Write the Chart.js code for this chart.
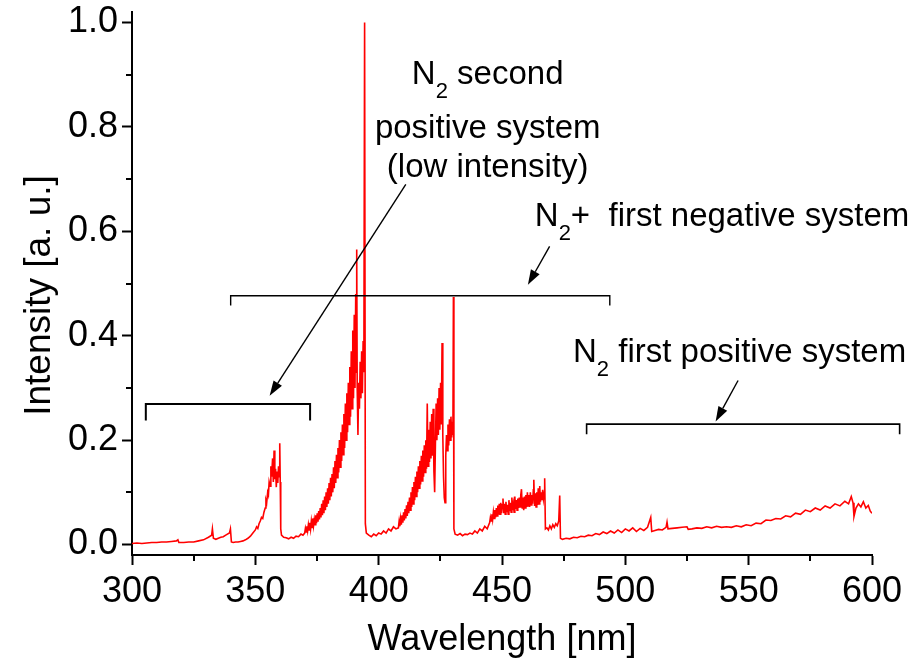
<!DOCTYPE html>
<html>
<head>
<meta charset="utf-8">
<script src="https://cdn.jsdelivr.net/npm/chart.js@4/dist/chart.umd.min.js"></script>
<style>
  html, body { margin: 0; padding: 0; background: #fff; }
  #wrap { width: 921px; height: 664px; }
</style>
</head>
<body>
<div id="wrap"><canvas id="c" width="921" height="664"></canvas></div>
<script>
// ---- data ----
const wavelength = [
300,302,304,306,308,310,312,314,316,318,318.6,319,321,323,325,327,329,331,332.3,332.6,333,334,335,336,337,338,339.5,339.9,340.3,341,342,343,344,345,346,347,348,349,350,350.5,351,351.5,352,352.5,353,353.5,354,354.3,354.6,355,355.3,355.6,356,356.3,356.6,357,357.3,357.6,357.9,358.2,358.5,358.8,359.1,359.4,359.7,359.9,360.1,360.3,360.6,361.5,362.5,363.5,364.5,365.5,366.5,367.5,368.5,369.3,
370.0,370.3,370.6,370.9,371.2,371.5,371.8,372.1,372.4,372.7,373.0,373.3,373.6,373.9,374.2,374.5,374.8,375.1,375.4,375.7,376.0,376.3,376.6,376.9,377.2,377.5,377.8,378.1,378.4,378.7,379.0,379.3,379.6,379.9,380.2,380.5,380.8,381.1,381.4,381.7,382.0,382.3,382.6,382.9,383.2,383.5,383.8,384.1,384.4,384.7,385.0,385.3,385.6,385.9,386.2,386.5,386.8,387.1,387.4,387.7,388.0,388.3,388.6,388.9,389.2,389.5,389.8,390.1,390.4,390.7,390.9,391.1,391.3,391.6,391.9,392.2,392.5,392.8,393.1,393.4,393.7,394.0,394.3,394.6,
395,396,397,398,399,400,401,402,403,404,405,406,407,
408.0,408.3,408.6,408.9,409.2,409.5,409.8,410.1,410.4,410.7,411.0,411.3,411.6,411.9,412.2,412.5,412.8,413.1,413.4,413.7,414.0,414.3,414.6,414.9,415.2,415.5,415.8,416.1,416.4,416.7,417.0,417.3,417.6,417.9,418.2,418.5,418.8,419.1,419.4,419.7,420.0,420.3,420.6,420.9,421.2,421.5,421.8,422.1,422.4,422.7,423.0,423.3,423.6,423.9,424.2,424.5,424.8,425.1,425.4,425.7,426.0,426.3,426.6,426.9,427.2,427.5,427.8,428.1,428.4,428.7,429.0,429.3,429.6,429.9,430.1,430.3,430.5,
431,432,433,434,435,436,437,438,439,440,441,442,443,444,
445.0,445.3,445.6,445.9,446.2,446.5,446.8,447.1,447.4,447.7,448.0,448.3,448.6,448.9,449.2,449.5,449.8,450.1,450.4,450.7,451.0,451.3,451.6,451.9,452.2,452.5,452.8,453.1,453.4,453.7,454.0,454.3,454.6,454.9,455.2,455.5,455.8,456.1,456.4,456.7,457.0,457.3,457.6,457.9,458.2,458.5,458.8,459.1,459.4,459.7,460.0,460.3,460.6,460.9,461.2,461.5,461.8,462.1,462.4,462.7,462.9,463.2,463.5,463.8,464.1,464.4,464.7,465.0,465.3,465.6,465.9,466.2,466.5,466.8,467.1,467.3,467.6,
468.2,468.8,469.4,470,470.6,471.2,471.8,472.4,473,473.4,473.7,474.5,476,477.5,479,480.5,482,483.5,485,486.5,488,489.5,491,492.5,494,495.5,497,498.5,500,501.5,503,504.5,506,507.5,509,510.3,510.7,512,513.5,515,516.5,516.9,517.3,519,521,523,525,525.5,527,529,531,533,535,537,539,541,543,545,547,549,551,553,555,557,559,561,563,565,567,569,571,573,575,577,579,581,583,585,587,589,590.5,591.6,592.3,592.7,593.5,594.5,595.5,596.5,597.5,598.5,599.3,600
];
const intensity = [
0.002,0.003,0.002,0.003,0.004,0.004,0.005,0.005,0.006,0.007,0.009,0.004,0.004,0.005,0.005,0.007,0.009,0.014,0.018,0.03,0.012,0.01,0.012,0.014,0.015,0.018,0.022,0.03,0.005,0.004,0.005,0.005,0.006,0.007,0.009,0.012,0.016,0.022,0.028,0.034,0.031,0.04,0.045,0.052,0.05,0.062,0.07,0.085,0.08,0.1,0.095,0.12,0.112,0.15,0.13,0.165,0.12,0.18,0.125,0.145,0.11,0.14,0.118,0.15,0.13,0.194,0.12,0.03,0.018,0.014,0.013,0.011,0.014,0.012,0.016,0.015,0.02,0.018,
0.022,0.031,0.024,0.035,0.026,0.038,0.028,0.042,0.03,0.045,0.033,0.05,0.036,0.048,0.038,0.056,0.041,0.06,0.044,0.064,0.048,0.07,0.052,0.078,0.056,0.085,0.06,0.092,0.066,0.1,0.072,0.108,0.078,0.118,0.085,0.128,0.092,0.135,0.1,0.148,0.108,0.16,0.118,0.172,0.128,0.185,0.138,0.2,0.148,0.215,0.16,0.23,0.172,0.25,0.185,0.27,0.2,0.29,0.215,0.31,0.23,0.34,0.245,0.37,0.26,0.41,0.28,0.44,0.3,0.48,0.33,0.565,0.3,0.21,0.31,0.26,0.35,0.28,0.37,0.29,0.39,0.33,1.0,0.04,
0.022,0.018,0.015,0.02,0.017,0.022,0.02,0.026,0.022,0.03,0.026,0.034,0.03,
0.032,0.045,0.035,0.05,0.038,0.056,0.042,0.062,0.046,0.068,0.05,0.075,0.055,0.082,0.06,0.09,0.066,0.1,0.072,0.11,0.078,0.12,0.085,0.13,0.092,0.14,0.1,0.15,0.108,0.16,0.115,0.17,0.122,0.18,0.13,0.19,0.138,0.2,0.145,0.27,0.15,0.22,0.158,0.235,0.165,0.25,0.17,0.26,0.14,0.1,0.19,0.27,0.2,0.28,0.21,0.3,0.22,0.31,0.23,0.386,0.21,0.13,0.09,0.08,0.17,0.21,0.18,0.23,0.19,0.24,0.2,0.245,0.205,0.235,0.21,0.474,0.03,
0.02,0.018,0.021,0.017,0.02,0.019,0.022,0.02,0.026,0.022,0.03,0.026,0.035,0.03,
0.042,0.052,0.045,0.058,0.048,0.062,0.05,0.066,0.052,0.07,0.055,0.075,0.057,0.078,0.058,0.08,0.06,0.076,0.088,0.06,0.078,0.058,0.082,0.062,0.076,0.058,0.085,0.064,0.08,0.062,0.09,0.066,0.078,0.062,0.092,0.068,0.085,0.066,0.088,0.07,0.09,0.072,0.095,0.106,0.07,0.09,0.066,0.092,0.07,0.095,0.072,0.1,0.074,0.095,0.072,0.1,0.076,0.095,0.078,0.105,0.124,0.074,0.098,0.072,0.1,0.076,0.108,0.078,0.112,0.082,0.1,0.085,0.105,0.088,0.1,0.127,0.03,
0.032,0.028,0.036,0.03,0.038,0.033,0.04,0.036,0.045,0.094,0.012,0.01,0.012,0.011,0.014,0.013,0.016,0.015,0.018,0.017,0.021,0.019,0.024,0.021,0.026,0.022,0.028,0.023,0.03,0.026,0.032,0.025,0.031,0.027,0.033,0.052,0.025,0.027,0.029,0.028,0.033,0.043,0.03,0.031,0.032,0.033,0.034,0.029,0.03,0.032,0.031,0.034,0.032,0.035,0.033,0.034,0.033,0.036,0.034,0.038,0.036,0.041,0.04,0.047,0.046,0.05,0.049,0.055,0.053,0.06,0.058,0.066,0.063,0.07,0.066,0.074,0.07,0.078,0.074,0.083,0.078,0.092,0.08,0.054,0.07,0.078,0.072,0.082,0.07,0.075,0.064,0.06
];
const xTicks = [300, 350, 400, 450, 500, 550, 600];
const xMinor = [325, 375, 425, 475, 525, 575];
const yTicks = [0.0, 0.2, 0.4, 0.6, 0.8, 1.0];
const yMinor = [0.1, 0.3, 0.5, 0.7, 0.9];
const xTitle = 'Wavelength [nm]';
const yTitle = 'Intensity [a. u.]';

// annotation definitions (data coordinates)
const brackets = [
  { x1: 305.6, x2: 372.2, y: 0.269, yEnd: 0.2375, w: 2 },
  { x1: 340.0, x2: 493.7, y: 0.4765, yEnd: 0.458, w: 1.4 },
  { x1: 484.3, x2: 611.2, y: 0.2307, yEnd: 0.2115, w: 1.6 }
];
const arrows = [
  { x1: 411.0, y1: 0.690, x2: 355.8, y2: 0.285 },
  { x1: 469.3, y1: 0.571, x2: 460.5, y2: 0.4975 },
  { x1: 545.7, y1: 0.3142, x2: 536.6, y2: 0.2356 }
];
// text segments: [text, isSubscript]
const labels = [
  { x: 444.2, y: 0.8826, align: 'center', parts: [['N', 0], ['2', 1], [' second', 0]] },
  { x: 444.2, y: 0.7787, align: 'center', parts: [['positive system', 0]] },
  { x: 444.2, y: 0.7044, align: 'center', parts: [['(low intensity)', 0]] },
  { x: 463.3, y: 0.6105, align: 'left', parts: [['N', 0], ['2', 1], ['+  first negative system', 0]] },
  { x: 478.8, y: 0.3506, align: 'left', parts: [['N', 0], ['2', 1], [' first positive system', 0]] }
];

const FONT = '"Liberation Sans", Arial, Helvetica, sans-serif';
const TICK_SIZE = 36, MAIN_SIZE = 33, SUB_SIZE = 22, SUB_DROP = 14;

const annotPlugin = {
  id: 'annot',
  afterDraw(chart) {
    const ctx = chart.ctx;
    const xs = chart.scales.x, ys = chart.scales.y;
    const X = v => xs.getPixelForValue(v), Y = v => ys.getPixelForValue(v);
    const area = chart.chartArea;
    ctx.save();
    ctx.strokeStyle = '#000';
    ctx.fillStyle = '#000';
    // minor ticks
    ctx.lineWidth = 2;
    yMinor.forEach(v => {
      const p = Math.round(Y(v));
      ctx.beginPath(); ctx.moveTo(area.left - 6, p); ctx.lineTo(area.left, p); ctx.stroke();
    });
    xMinor.forEach(v => {
      const p = Math.round(X(v));
      ctx.beginPath(); ctx.moveTo(p, area.bottom); ctx.lineTo(p, area.bottom + 6); ctx.stroke();
    });
    // brackets
    brackets.forEach(b => {
      ctx.lineWidth = b.w;
      ctx.beginPath();
      ctx.moveTo(X(b.x1), Y(b.yEnd));
      ctx.lineTo(X(b.x1), Y(b.y));
      ctx.lineTo(X(b.x2), Y(b.y));
      ctx.lineTo(X(b.x2), Y(b.yEnd));
      ctx.stroke();
    });
    // arrows
    arrows.forEach(a => {
      const x1 = X(a.x1), y1 = Y(a.y1), x2 = X(a.x2), y2 = Y(a.y2);
      const ang = Math.atan2(y2 - y1, x2 - x1);
      const L = 15, H = 5;
      const bx = x2 - L * Math.cos(ang), by = y2 - L * Math.sin(ang);
      ctx.lineWidth = 1.4;
      ctx.beginPath(); ctx.moveTo(x1, y1); ctx.lineTo(bx, by); ctx.stroke();
      ctx.beginPath();
      ctx.moveTo(x2, y2);
      ctx.lineTo(bx + H * Math.sin(ang), by - H * Math.cos(ang));
      ctx.lineTo(bx - H * Math.sin(ang), by + H * Math.cos(ang));
      ctx.closePath(); ctx.fill();
    });
    // labels
    ctx.textBaseline = 'alphabetic';
    ctx.textAlign = 'left';
    labels.forEach(l => {
      const widths = l.parts.map(([t, s]) => {
        ctx.font = (s ? SUB_SIZE : MAIN_SIZE) + 'px ' + FONT;
        return ctx.measureText(t).width;
      });
      const total = widths.reduce((a, b) => a + b, 0);
      let px = X(l.x);
      if (l.align === 'center') px -= total / 2;
      const py = Y(l.y);
      l.parts.forEach(([t, s], i) => {
        ctx.font = (s ? SUB_SIZE : MAIN_SIZE) + 'px ' + FONT;
        ctx.fillText(t, px, s ? py + SUB_DROP : py);
        px += widths[i];
      });
    });
    // y-axis title (rotated)
    ctx.save();
    ctx.translate(40, (area.top + area.bottom) / 2 + 12);
    ctx.rotate(-Math.PI / 2);
    ctx.textAlign = 'center';
    ctx.textBaseline = 'middle';
    ctx.font = '37px ' + FONT;
    ctx.fillText(yTitle, 0, 0);
    ctx.restore();
    ctx.restore();
  }
};

new Chart(document.getElementById('c'), {
  type: 'scatter',
  data: {
    datasets: [{
      data: wavelength.map((w, i) => ({ x: w, y: intensity[i] })),
      showLine: true,
      borderColor: '#ff0000',
      borderWidth: 1.6,
      pointRadius: 0,
      tension: 0
    }]
  },
  options: {
    responsive: false,
    animation: false,
    devicePixelRatio: 1,
    layout: { padding: { top: 12, right: 49, left: 0, bottom: 0 } },
    plugins: { legend: { display: false }, tooltip: { enabled: false } },
    scales: {
      x: {
        type: 'linear',
        min: 300, max: 600,
        afterBuildTicks: s => { s.ticks = xTicks.map(v => ({ value: v })); },
        afterFit: s => { s.height = 109; s.paddingLeft = 0; s.paddingRight = 0; },
        ticks: { font: { family: FONT, size: TICK_SIZE }, color: '#000', padding: 5, maxRotation: 0, autoSkip: false,
                 callback: v => String(v) },
        grid: { display: true, drawOnChartArea: false, drawTicks: true, tickLength: 10, tickColor: '#000', tickWidth: 2 },
        border: { display: true, color: '#000', width: 2 },
        title: { display: true, text: xTitle, font: { family: FONT, size: 36 }, color: '#000', padding: { top: 4, bottom: 2 } }
      },
      y: {
        type: 'linear',
        min: -0.02, max: 1.02,
        afterBuildTicks: s => { s.ticks = yTicks.map(v => ({ value: v })); },
        afterFit: s => { s.width = 132; s.paddingTop = 0; s.paddingBottom = 0; },
        ticks: { font: { family: FONT, size: TICK_SIZE }, color: '#000', padding: 4, autoSkip: false,
                 callback: v => Number(v).toFixed(1) },
        grid: { display: true, drawOnChartArea: false, drawTicks: true, tickLength: 10, tickColor: '#000', tickWidth: 2 },
        border: { display: true, color: '#000', width: 2 },
        title: { display: false }
      }
    }
  },
  plugins: [annotPlugin]
});
</script>
</body>
</html>
